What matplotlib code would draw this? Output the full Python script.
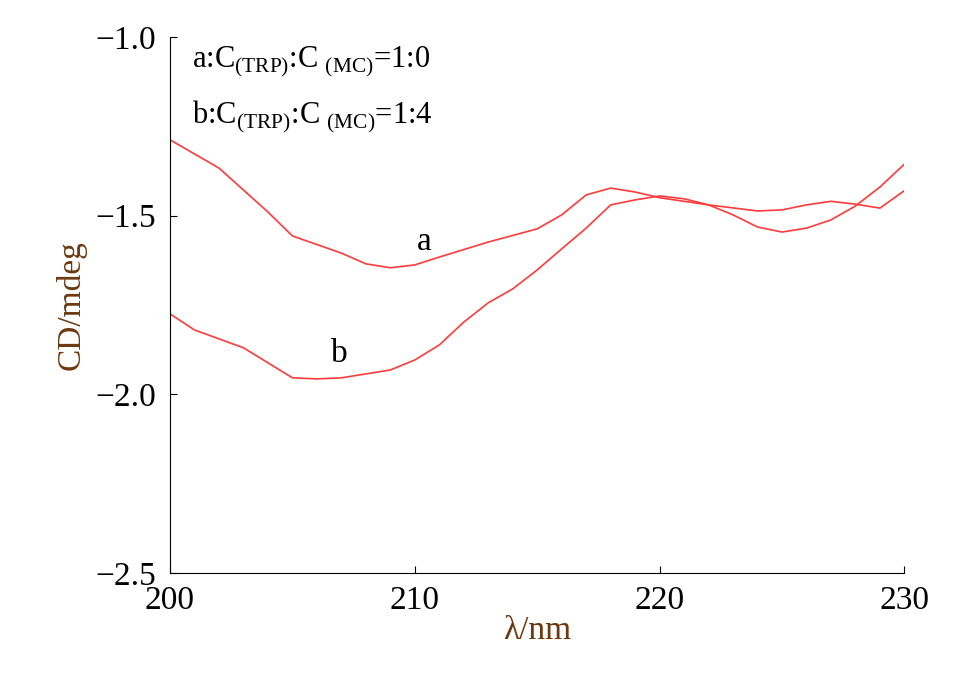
import matplotlib
matplotlib.use("Agg")
import matplotlib.pyplot as plt

plt.rcParams['font.family'] = ['Liberation Serif', 'DejaVu Serif']
plt.rcParams['mathtext.fontset'] = 'custom'
plt.rcParams['mathtext.rm'] = 'Liberation Serif'

xa = [200, 202, 204, 205, 207, 208, 209, 210, 211, 213, 215, 216, 217, 218, 219, 220, 222, 224, 225, 226, 227, 228, 229, 230]
ya = [-1.288, -1.367, -1.49, -1.557, -1.605, -1.635, -1.646, -1.638, -1.616, -1.574, -1.537, -1.498, -1.442, -1.423, -1.434,
      -1.45, -1.47, -1.487, -1.484, -1.47, -1.46, -1.468, -1.479, -1.43]
xb = [200, 201, 203, 205, 206, 207, 209, 210, 211, 212, 213, 214, 215, 216, 217, 218, 219, 220, 221, 222, 223, 224, 225, 226, 227, 228, 229, 230]
yb = [-1.775, -1.82, -1.87, -1.954, -1.957, -1.954, -1.932, -1.904, -1.862, -1.798, -1.744, -1.705, -1.652, -1.593, -1.535,
      -1.47, -1.456, -1.445, -1.453, -1.47, -1.498, -1.532, -1.546, -1.535, -1.512, -1.473, -1.42, -1.356]

fig = plt.figure(figsize=(9.55, 6.97), dpi=100)
ax = fig.add_axes([0.178, 0.178, 0.769, 0.769])
red = '#ff3b3b'
ax.plot(xa, ya, color=red, lw=1.2)
ax.plot(xb, yb, color=red, lw=1.2)
ax.set_xlim(200, 230)
ax.set_ylim(-2.5, -1.0)
ax.set_xticks([200, 210, 220, 230])
ax.set_yticks([-2.5, -2.0, -1.5, -1.0])
ax.set_yticklabels(['\u22122.5', '\u22122.0', '\u22121.5', '\u22121.0'])
for s in ['top', 'right']:
    ax.spines[s].set_visible(False)
ax.tick_params(direction='in', labelsize=24, length=5)
ax.tick_params(axis='x', pad=9)
ax.tick_params(axis='y', pad=10)
ax.set_xlabel('\u03bb/nm', fontsize=24, color='#6b3a10', labelpad=0)
ax.set_ylabel('CD/mdeg', fontsize=24, color='#6b3a10', labelpad=6)
ax.text(0.03, 0.985, 'a:C$_{\\rm (TRP)}$:C$_{\\rm\\ (MC)}$=1:0', transform=ax.transAxes, fontsize=22, va='top')
ax.text(0.03, 0.885, 'b:C$_{\\rm (TRP)}$:C$_{\\rm\\ (MC)}$=1:4', transform=ax.transAxes, fontsize=22, va='top')
ax.text(210.4, -1.615, 'a', fontsize=24, ha='center', va='bottom')
ax.text(206.9, -1.93, 'b', fontsize=24, ha='center', va='bottom')
fig.savefig('out.png', dpi=100)
